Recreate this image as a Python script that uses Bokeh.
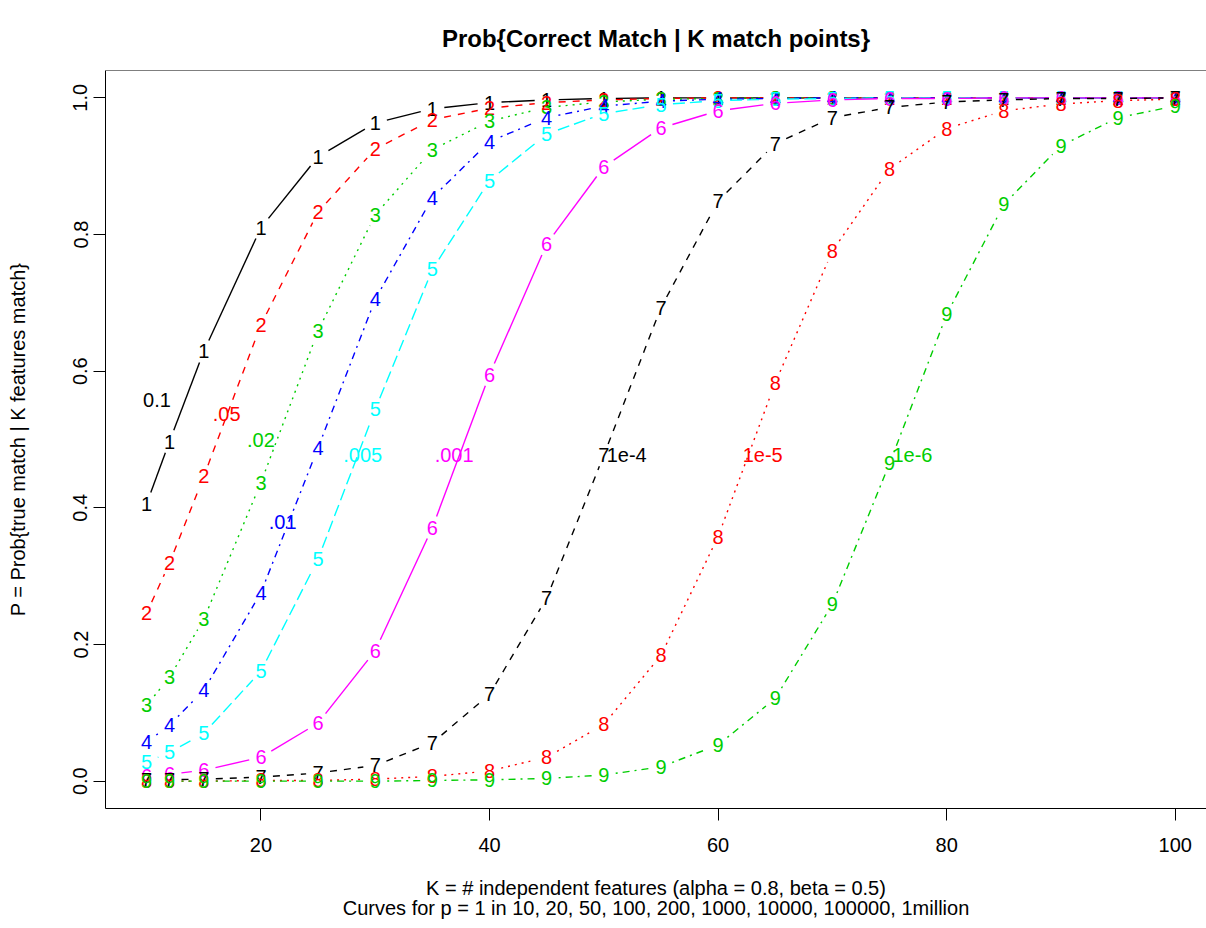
import math

from bokeh.core.properties import value
from bokeh.embed import file_html
from bokeh.models import FixedTicker, PrintfTickFormatter, Range1d, Span
from bokeh.plotting import figure
from bokeh.resources import INLINE

# K = number of independent features that match
K = [10, 12, 15, 20, 25, 30, 35, 40, 45, 50, 55, 60, 65, 70, 75, 80, 85, 90, 95, 100]

# P{true match | K features match} for each prior p
p_1in10 = [0.406, 0.497, 0.629, 0.810, 0.914, 0.963, 0.984, 0.993, 0.997, 0.999,
           1.000, 1.000, 1.000, 1.000, 1.000, 1.000, 1.000, 1.000, 1.000, 1.000]
p_1in20 = [0.246, 0.319, 0.446, 0.668, 0.833, 0.925, 0.968, 0.985, 0.993, 0.997,
           0.999, 1.000, 1.000, 1.000, 1.000, 1.000, 1.000, 1.000, 1.000, 1.000]
p_1in50 = [0.111, 0.152, 0.237, 0.437, 0.659, 0.829, 0.924, 0.966, 0.986, 0.994,
           0.998, 0.999, 1.000, 1.000, 1.000, 1.000, 1.000, 1.000, 1.000, 1.000]
p_1in100 = [0.057, 0.082, 0.133, 0.276, 0.488, 0.705, 0.854, 0.936, 0.971, 0.988,
            0.995, 0.998, 0.999, 1.000, 1.000, 1.000, 1.000, 1.000, 1.000, 1.000]
p_1in200 = [0.028, 0.042, 0.070, 0.161, 0.325, 0.544, 0.749, 0.879, 0.947, 0.977,
            0.990, 0.996, 0.998, 0.999, 1.000, 1.000, 1.000, 1.000, 1.000, 1.000]
p_1in1e3 = [0.007, 0.010, 0.016, 0.035, 0.085, 0.191, 0.371, 0.595, 0.786, 0.899,
            0.956, 0.981, 0.992, 0.997, 0.999, 0.999, 1.000, 1.000, 1.000, 1.000]
p_1in1e4 = [0.001, 0.002, 0.003, 0.006, 0.012, 0.023, 0.056, 0.127, 0.268, 0.477,
            0.693, 0.849, 0.933, 0.971, 0.986, 0.994, 0.997, 0.999, 0.999, 1.000]
p_1in1e5 = [0.000, 0.000, 0.000, 0.001, 0.001, 0.003, 0.007, 0.015, 0.035, 0.083,
            0.184, 0.358, 0.583, 0.776, 0.896, 0.955, 0.981, 0.991, 0.996, 0.998]
p_1in1e6 = [0.000, 0.000, 0.000, 0.000, 0.000, 0.000, 0.001, 0.002, 0.004, 0.009,
            0.021, 0.053, 0.121, 0.259, 0.465, 0.683, 0.844, 0.930, 0.971, 0.988]

series = [p_1in10, p_1in20, p_1in50, p_1in100, p_1in200,
          p_1in1e3, p_1in1e4, p_1in1e5, p_1in1e6]
curve_symbols = ["1", "2", "3", "4", "5", "6", "7", "8", "9"]

# curve annotations (prior p written next to each curve)
note_text = ["0.1", ".05", ".02", ".01", ".005", ".001", "1e-4", "1e-5", "1e-6"]
note_x = [10.9, 17.0, 20.0, 21.9, 28.9, 36.9, 52.0, 63.9, 77.0]
note_y = [0.558, 0.538, 0.500, 0.379, 0.478, 0.478, 0.478, 0.478, 0.478]

x_ticks = [20, 40, 60, 80, 100]
y_ticks = [0.0, 0.2, 0.4, 0.6, 0.8, 1.0]

x_title = "K = # independent features (alpha = 0.8, beta = 0.5)"
x_subtitle = "Curves for p = 1 in 10, 20, 50, 100, 200, 1000, 10000, 100000, 1million"

# classic palette / line types, cycled as in matplot
palette = ["#000000", "#FF0000", "#00CD00", "#0000FF", "#00FFFF", "#FF00FF"]
dashes = ["solid", "7 7", "2 5", "2 5 7 5", "12 5"]

FONT = value("Liberation Sans")
W, H = 1206, 928
LEFT, TOP, BOTTOM = 105, 70, 120
X_LO, X_HI = 6.4, 102.73
Y_LO, Y_HI = -0.04, 1.04
GAP = 12  # px left open around each plotted symbol

p = figure(width=W, height=H, output_backend="svg", toolbar_location=None,
           x_range=Range1d(X_LO, X_HI), y_range=Range1d(Y_LO, Y_HI),
           min_border_left=LEFT, min_border_right=0,
           min_border_top=TOP, min_border_bottom=BOTTOM)
p.background_fill_color = "white"
p.border_fill_color = "white"
p.outline_line_color = None
p.grid.visible = False

frame_w = W - LEFT
frame_h = H - TOP - BOTTOM
sx = frame_w / (X_HI - X_LO)
sy = frame_h / (Y_HI - Y_LO)

for i, ys in enumerate(series):
    color = palette[i % len(palette)]
    dash = dashes[i % len(dashes)]
    x0s, y0s, x1s, y1s = [], [], [], []
    for j in range(len(K) - 1):
        dx = K[j + 1] - K[j]
        dy = ys[j + 1] - ys[j]
        length = math.hypot(dx * sx, dy * sy)
        if length > 2 * GAP:
            f = GAP / length
            x0s.append(K[j] + f * dx)
            y0s.append(ys[j] + f * dy)
            x1s.append(K[j + 1] - f * dx)
            y1s.append(ys[j + 1] - f * dy)
    p.segment(x0=x0s, y0=y0s, x1=x1s, y1=y1s, line_color=color,
              line_dash=dash, line_width=1.4)
    p.text(x=K, y=ys, text=[curve_symbols[i]] * len(K), text_color=color,
           text_font=FONT, text_font_size="20px", text_align="center",
           text_baseline="middle")

note_colors = [palette[i % len(palette)] for i in range(len(note_text))]
p.text(x=note_x, y=note_y, text=note_text, text_color=note_colors,
       text_font=FONT, text_font_size="20px", text_align="center",
       text_baseline="middle")

# box top edge
p.add_layout(Span(location=Y_HI, dimension="width", line_color="#000000",
                  line_width=1))

for ax in (p.xaxis[0], p.yaxis[0]):
    ax.major_tick_out = 12
    ax.major_tick_in = 0
    ax.minor_tick_line_color = None
    ax.axis_line_color = "#000000"
    ax.major_tick_line_color = "#000000"
    ax.major_label_text_font = "Liberation Sans"
    ax.major_label_text_font_size = "20px"
    ax.major_label_text_color = "#000000"
    ax.axis_label_text_font = "Liberation Sans"
    ax.axis_label_text_font_size = "20px"
    ax.axis_label_text_font_style = "normal"
    ax.axis_label_text_color = "#000000"

p.xaxis.ticker = FixedTicker(ticks=x_ticks)
p.yaxis.ticker = FixedTicker(ticks=y_ticks)
p.yaxis.formatter = PrintfTickFormatter(format="%.1f")
p.yaxis.major_label_orientation = "vertical"
p.xaxis.major_label_standoff = 17
p.yaxis.major_label_standoff = 6

p.yaxis.axis_label = "P = Prob{true match | K features match}"
p.yaxis.axis_label_standoff = 42

p.xaxis.axis_label = x_title + "\n" + x_subtitle
p.xaxis.axis_label_text_line_height = 0.95
p.xaxis.axis_label_standoff = 22

p.title.text = "Prob{Correct Match | K match points}"
p.title.align = "center"
p.title.text_font = "Liberation Sans"
p.title.text_font_size = "24px"
p.title.text_font_style = "bold"
p.title.text_color = "#000000"
p.title.standoff = 37

open("out.html", "w").write(file_html(p, INLINE))
